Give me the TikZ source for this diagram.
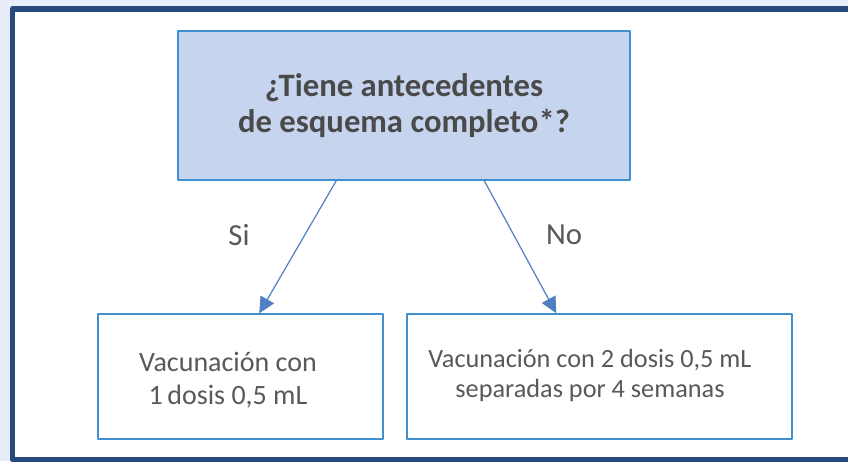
\documentclass[tikz,border=0pt]{standalone}
\usepackage{fontspec}
\setmainfont{Carlito}
\usetikzlibrary{arrows.meta}
\definecolor{eeffff}{rgb}{0.91,0.93,0.98}
\definecolor{ttqqcc}{rgb}{0.15,0.29,0.49}
\definecolor{ccddee}{rgb}{0.78,0.83,0.93}
\definecolor{qqcccc}{rgb}{0.25,0.56,0.82}
\definecolor{wwqqcc}{rgb}{0.31,0.50,0.76}
\definecolor{uuuuuu}{rgb}{0.35,0.35,0.35}
\definecolor{tttttt}{rgb}{0.29,0.29,0.29}
\begin{document}
\begin{tikzpicture}[line cap=round,line join=round,x=0.75pt,y=-0.75pt,
	caja/.style={draw=qqcccc,line width=1.1pt,inner sep=0pt,minimum height=93.75pt},
	texto/.style={text=uuuuuu,align=center,inner sep=0pt},
	flecha/.style={draw=wwqqcc,line width=0.9pt,-{Triangle[length=12pt,width=11.5pt]}}]
	\clip (0,0) rectangle (848,461);
	\fill[eeffff] (0,0) rectangle (848,461);
	\fill[white] (12.5,9) rectangle (870,459.5);
	\draw[ttqqcc,line width=4.2pt,line cap=butt] (870,9) -- (12.5,9) -- (12.5,459.5) -- (870,459.5);
	% pregunta
	\node[caja,fill=ccddee,minimum width=339pt,minimum height=111.75pt,text=tttttt,align=center,
		font=\bfseries\fontsize{24.5}{26.5}\selectfont] (pregunta) at (404,105.5)
		{¿Tiene antecedentes\\de esquema completo*?};
	% respuestas
	\node[caja,minimum width=213.75pt] (unadosis) at (240.5,376.5) {};
	\node[caja,minimum width=288.75pt] (dosdosis) at (599.5,376.5) {};
	\node[texto,font=\fontsize{21}{24.75}\selectfont] (unatexto) at (228,380) {Vacunación con\\1\,dosis 0,5 mL};
	\node[texto,font=\fontsize{19.7}{22.5}\selectfont] (dostexto) at (590,375) {Vacunación con 2 dosis 0,5 mL\\separadas por 4 semanas};
	% flechas
	\draw[flecha] ([xshift=119.25pt]pregunta.south west) -- ([xshift=121.5pt]unadosis.north west);
	\draw[flecha] ([xshift=230.25pt]pregunta.south west) -- ([xshift=112.5pt]dosdosis.north west);
	\node[text=uuuuuu,font=\fontsize{23}{26}\selectfont] (si) at (239,235) {Si};
	\node[text=uuuuuu,font=\fontsize{23}{26}\selectfont] (no) at (564,235) {No};
\end{tikzpicture}
\end{document}
